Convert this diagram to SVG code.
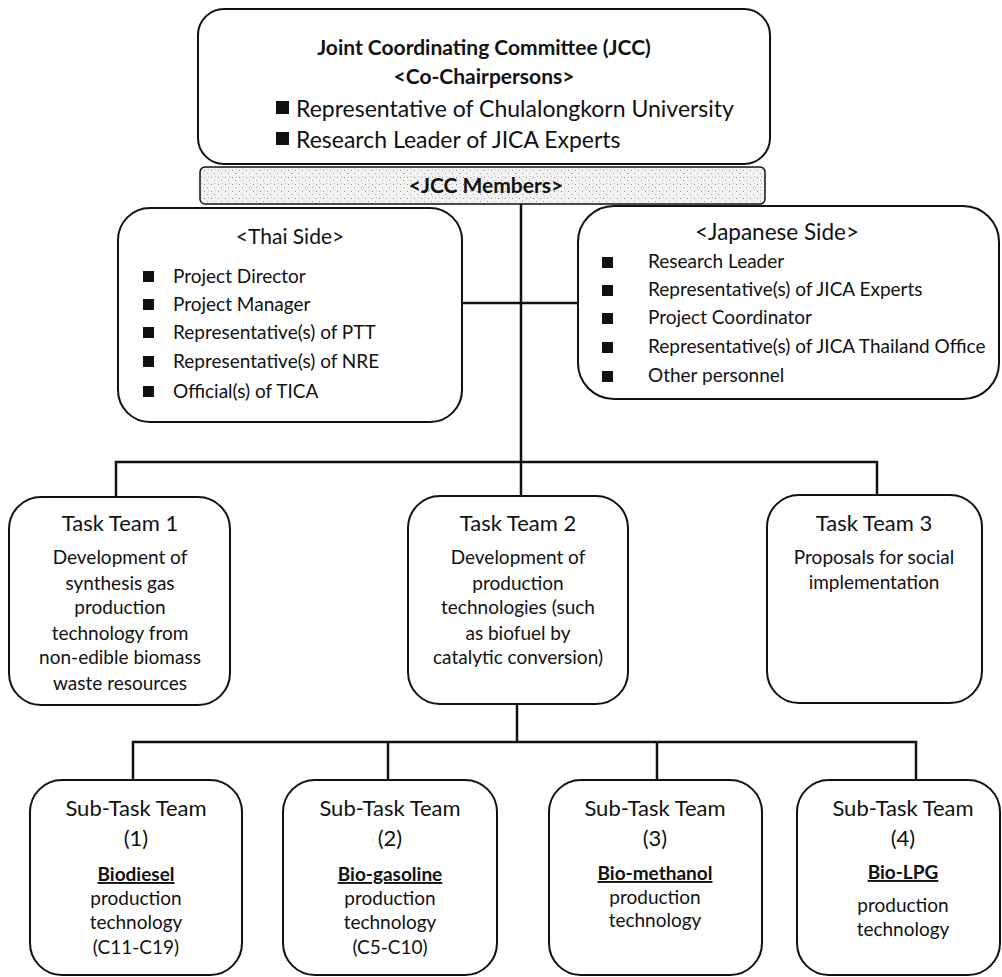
<svg xmlns="http://www.w3.org/2000/svg" width="1002" height="977" viewBox="0 0 1002 977">
<defs>
<pattern id="stip" width="7" height="7" patternUnits="userSpaceOnUse">
<rect width="7" height="7" fill="#f2f2f2"/>
<rect x="1" y="2" width="1" height="1" fill="#8a8a8a"/>
<rect x="4" y="5" width="1" height="1" fill="#a5a5a5"/>
<rect x="5" y="1" width="1" height="1" fill="#c0c0c0"/>
</pattern>
</defs>
<style>
.box{fill:#fff;stroke:#111;stroke-width:2}
.ln{stroke:#111;stroke-width:2.5;fill:none}
text{font-family:Lato,"Liberation Sans",sans-serif;fill:#111}
.c{text-anchor:middle}
.h{font-size:22px}
.s{font-size:19px}
.m{font-size:19px}
.bd{font-weight:bold}
.bul{fill:#111}
</style>
<rect width="1002" height="977" fill="#fff"/>

<g id="connectors">
<line class="ln" x1="521" y1="204" x2="521" y2="497"/>
<line class="ln" x1="462" y1="303" x2="578" y2="303"/>
<line class="ln" x1="115" y1="462" x2="878" y2="462"/>
<line class="ln" x1="116" y1="461" x2="116" y2="497"/>
<line class="ln" x1="877" y1="461" x2="877" y2="495"/>
<line class="ln" x1="517" y1="704" x2="517" y2="742"/>
<line class="ln" x1="132" y1="742" x2="917" y2="742"/>
<line class="ln" x1="133" y1="741" x2="133" y2="780"/>
<line class="ln" x1="388" y1="741" x2="388" y2="780"/>
<line class="ln" x1="657" y1="741" x2="657" y2="780"/>
<line class="ln" x1="916" y1="741" x2="916" y2="780"/>
</g>

<g id="jcc">
<rect class="box" x="198" y="9" width="572" height="155" rx="26"/>
<text class="c bd" style="font-size:21px" x="484" y="55">Joint Coordinating Committee (JCC)</text>
<text class="c bd" style="font-size:21px" x="484" y="84">&lt;Co-Chairpersons&gt;</text>
<rect class="bul" x="276" y="101" width="13" height="13"/>
<text style="font-size:23px" x="296" y="117">Representative of Chulalongkorn University</text>
<rect class="bul" x="276" y="132" width="13" height="13"/>
<text style="font-size:23px" x="296" y="148">Research Leader of JICA Experts</text>
</g>

<g id="jcc-members">
<rect x="200" y="167" width="565" height="37" rx="5" fill="url(#stip)" stroke="#111" stroke-width="1.5"/>
<text class="c bd" style="font-size:21px" x="486" y="193">&lt;JCC Members&gt;</text>
</g>

<g id="thai-side">
<rect class="box" x="118" y="208" width="344" height="214" rx="32"/>
<text class="c" style="font-size:21px" x="290" y="244">&lt;Thai Side&gt;</text>
<rect class="bul" x="143" y="271" width="11" height="11"/>
<text class="s" x="173" y="283">Project Director</text>
<rect class="bul" x="143" y="299" width="11" height="11"/>
<text class="s" x="173" y="311">Project Manager</text>
<rect class="bul" x="143" y="327" width="11" height="11"/>
<text class="s" x="173" y="339">Representative(s) of PTT</text>
<rect class="bul" x="143" y="356" width="11" height="11"/>
<text class="s" x="173" y="368">Representative(s) of NRE</text>
<rect class="bul" x="143" y="386" width="11" height="11"/>
<text class="s" x="173" y="398">Official(s) of TICA</text>
</g>

<g id="japanese-side">
<rect class="box" x="578" y="206" width="421" height="193" rx="36"/>
<text class="c" style="font-size:22.5px" x="777" y="240">&lt;Japanese Side&gt;</text>
<rect class="bul" x="602" y="257" width="11" height="11"/>
<text class="s" x="648" y="268">Research Leader</text>
<rect class="bul" x="602" y="285" width="11" height="11"/>
<text class="s" x="648" y="296">Representative(s) of JICA Experts</text>
<rect class="bul" x="602" y="313" width="11" height="11"/>
<text class="s" x="648" y="324">Project Coordinator</text>
<rect class="bul" x="602" y="342" width="11" height="11"/>
<text class="s" x="648" y="353">Representative(s) of JICA Thailand Office</text>
<rect class="bul" x="602" y="371" width="11" height="11"/>
<text class="s" x="648" y="382">Other personnel</text>
</g>

<g id="task-team-1">
<rect class="box" x="9" y="497" width="221" height="208" rx="32"/>
<text class="c h" x="120" y="531">Task Team 1</text>
<text class="c m" x="120" y="564">Development of</text>
<text class="c m" x="120" y="590">synthesis gas</text>
<text class="c m" x="120" y="614">production</text>
<text class="c m" x="120" y="640">technology from</text>
<text class="c m" x="120" y="664">non-edible biomass</text>
<text class="c m" x="120" y="690">waste resources</text>
</g>

<g id="task-team-2">
<rect class="box" x="408" y="496" width="220" height="208" rx="32"/>
<text class="c h" x="518" y="531">Task Team 2</text>
<text class="c m" x="518" y="564">Development of</text>
<text class="c m" x="518" y="590">production</text>
<text class="c m" x="518" y="614">technologies (such</text>
<text class="c m" x="518" y="640">as biofuel by</text>
<text class="c m" x="518" y="664">catalytic conversion)</text>
</g>

<g id="task-team-3">
<rect class="box" x="767" y="495" width="215" height="208" rx="32"/>
<text class="c h" x="874" y="531">Task Team 3</text>
<text class="c m" x="874" y="564">Proposals for social</text>
<text class="c m" x="874" y="589">implementation</text>
</g>

<g id="sub-task-1">
<rect class="box" x="30" y="780" width="212" height="195" rx="32"/>
<text class="c h" x="136" y="816">Sub-Task Team</text>
<text class="c h" x="136" y="846">(1)</text>
<text class="c m bd" x="136" y="881" text-decoration="underline">Biodiesel</text>
<text class="c m" x="136" y="905">production</text>
<text class="c m" x="136" y="929">technology</text>
<text class="c m" x="136" y="954">(C11-C19)</text>
</g>

<g id="sub-task-2">
<rect class="box" x="283" y="780" width="214" height="195" rx="32"/>
<text class="c h" x="390" y="816">Sub-Task Team</text>
<text class="c h" x="390" y="846">(2)</text>
<text class="c m bd" x="390" y="881" text-decoration="underline">Bio-gasoline</text>
<text class="c m" x="390" y="905">production</text>
<text class="c m" x="390" y="929">technology</text>
<text class="c m" x="390" y="954">(C5-C10)</text>
</g>

<g id="sub-task-3">
<rect class="box" x="549" y="780" width="213" height="195" rx="32"/>
<text class="c h" x="655" y="816">Sub-Task Team</text>
<text class="c h" x="655" y="846">(3)</text>
<text class="c m bd" x="655" y="880" text-decoration="underline">Bio-methanol</text>
<text class="c m" x="655" y="904">production</text>
<text class="c m" x="655" y="927">technology</text>
</g>

<g id="sub-task-4">
<rect class="box" x="797" y="780" width="203" height="195" rx="32"/>
<text class="c h" x="903" y="816">Sub-Task Team</text>
<text class="c h" x="903" y="846">(4)</text>
<text class="c m bd" x="903" y="879" text-decoration="underline">Bio-LPG</text>
<text class="c m" x="903" y="912">production</text>
<text class="c m" x="903" y="936">technology</text>
</g>
</svg>
